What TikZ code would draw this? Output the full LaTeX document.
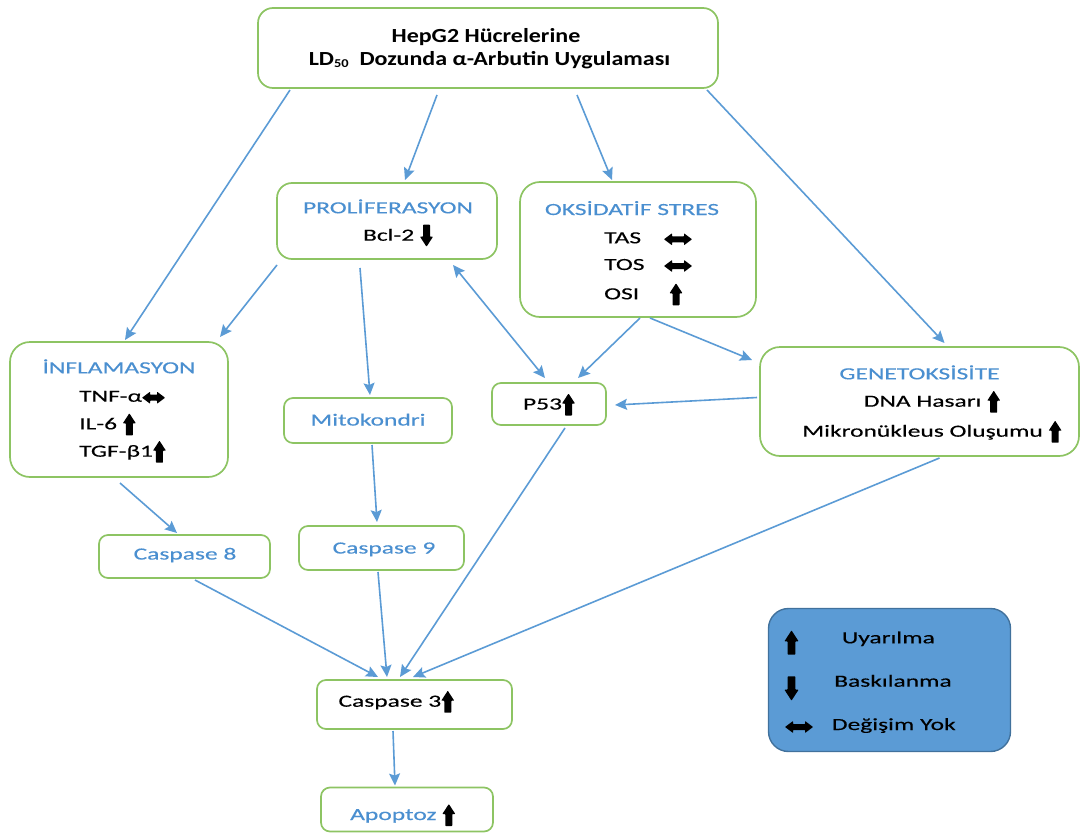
\documentclass[tikz,border=0pt]{standalone}
\usepackage{fontspec}
\setmainfont{Carlito}[FakeStretch=1.5,FakeBold=0.35]
\newfontfamily\titlefont{Carlito}[FakeStretch=1.2]
\usetikzlibrary{arrows.meta}
\definecolor{boxgreen}{RGB}{141,196,99}
\definecolor{arrowblue}{RGB}{91,155,213}
\definecolor{textblue}{RGB}{74,143,208}
\definecolor{legfill}{RGB}{91,155,213}
\definecolor{legdraw}{RGB}{65,113,156}
\newcommand\arrUp{\tikz[baseline=6pt]\fill[black,rounded corners=0.6pt] (3pt,0pt)--(10pt,0pt)--(10pt,12pt)--(13pt,12pt)--(6.5pt,22pt)--(0pt,12pt)--(3pt,12pt)--cycle;}
\newcommand\arrDown{\tikz[baseline=6pt]\fill[black,rounded corners=0.6pt] (3pt,22pt)--(10pt,22pt)--(10pt,10pt)--(13pt,10pt)--(6.5pt,0pt)--(0pt,10pt)--(3pt,10pt)--cycle;}
\newcommand\arrLR[1][28]{\tikz[baseline=1pt]\fill[black,rounded corners=0.5pt] (0pt,5pt)--(8pt,11pt)--(8pt,8pt)--({#1pt-8pt},8pt)--({#1pt-8pt},11pt)--(#1pt,5pt)--({#1pt-8pt},-1pt)--({#1pt-8pt},2pt)--(8pt,2pt)--(8pt,-1pt)--cycle;}
\begin{document}
\begin{tikzpicture}[x=1pt,y=-1pt,
  box/.style={draw=boxgreen, line width=1.7pt, rounded corners=15pt, fill=white, inner sep=0pt, outer sep=0pt},
  sbox/.style={box, rounded corners=9pt},
  legbox/.style={draw=legdraw, line width=1.4pt, rounded corners=20pt, fill=legfill, inner sep=0pt, outer sep=0pt},
  txt/.style={inner sep=0pt, font=\fontsize{17pt}{20pt}\selectfont, text=black},
  btxt/.style={txt, text=textblue},
  ttl/.style={inner sep=0pt, font=\titlefont\bfseries\fontsize{20pt}{24pt}\selectfont, text=black},
  conn/.style={draw=arrowblue, line width=1.6pt, -{Stealth[length=12pt,width=11pt,inset=2pt]}},
  dconn/.style={draw=arrowblue, line width=1.6pt, {Stealth[length=12pt,width=11pt,inset=2pt]}-{Stealth[length=12pt,width=11pt,inset=2pt]}}
]
\useasboundingbox (0,0) rectangle (1083,832);
% boxes
\node[box, minimum width=460pt, minimum height=80pt] (top) at (488,48) {};
\node[box, minimum width=220pt, minimum height=76pt] (prolif) at (387,221) {};
\node[box, rounded corners=20pt, minimum width=236pt, minimum height=135pt] (oks) at (638,249.5) {};
\node[box, rounded corners=20pt, minimum width=218pt, minimum height=135pt] (infl) at (119,409.5) {};
\node[box, rounded corners=20pt, minimum width=319pt, minimum height=109pt] (gen) at (919.5,401.5) {};
\node[sbox, minimum width=168pt, minimum height=45pt] (mito) at (368,420.5) {};
\node[sbox, minimum width=114pt, minimum height=42pt] (p53) at (549,404) {};
\node[sbox, minimum width=171pt, minimum height=43pt] (c8) at (184.5,556.5) {};
\node[sbox, minimum width=165pt, minimum height=44pt] (c9) at (381.5,548) {};
\node[sbox, minimum width=195pt, minimum height=49pt] (c3) at (414.5,704.5) {};
\node[sbox, minimum width=172pt, minimum height=44pt] (apo) at (407,809.5) {};
\node[legbox, minimum width=242pt, minimum height=143pt] (leg) at (889.5,680) {};
% texts
\node[ttl, anchor=base] (t1) at (486,43) {HepG2 Hücrelerine};
\node[ttl, anchor=base] (t2) at (489.5,66) {LD\raisebox{-1.5pt}{\fontsize{12pt}{12pt}\selectfont 50}\ \ Dozunda α-Arbutin Uygulaması};
\node[btxt, anchor=base] (prolifT) at (388,213.3) {PROLİFERASYON};
\node[txt, anchor=base] (bcl) at (398,240.7) {Bcl-2 \arrDown};
\node[btxt, anchor=base] (oksT) at (632,215) {OKSİDATİF STRES};
\node[txt, anchor=base west] (tas) at (604,243.3) {TAS};
\node[txt, anchor=base west] (tos) at (604,270) {TOS};
\node[txt, anchor=base west] (osi) at (604,299.3) {OSI};
\node[txt, anchor=base] (tasA) at (678,243.3) {\arrLR};
\node[txt, anchor=base] (tosA) at (678,270) {\arrLR};
\node[txt, anchor=base] (osiA) at (676,299.3) {\arrUp};
\node[btxt, anchor=base] (inflT) at (119,373.3) {İNFLAMASYON};
\node[txt, anchor=base west] (tnf) at (79,401.7) {TNF-α\arrLR[23]};
\node[txt, anchor=base west] (il6) at (79,429.3) {IL-6 \arrUp};
\node[txt, anchor=base west] (tgf) at (79,456.7) {TGF-β1\arrUp};
\node[btxt, anchor=base] (genT) at (919.5,379.3) {GENETOKSİSİTE};
\node[txt, anchor=base] (dna) at (932,406.7) {DNA Hasarı \arrUp};
\node[txt, anchor=base] (mikro) at (932,436.7) {Mikronükleus Oluşumu \arrUp};
\node[btxt, anchor=base] (mitoT) at (368,425.5) {Mitokondri};
\node[txt, anchor=base] (p53T) at (549,409.5) {P53\arrUp};
\node[btxt, anchor=base] (c8T) at (185,559.5) {Caspase 8};
\node[btxt, anchor=base] (c9T) at (384,553.5) {Caspase 9};
\node[txt, anchor=base west] (c3T) at (338.3,706.7) {Caspase 3\arrUp};
\node[btxt, anchor=base west] (apoT) at (350,820) {Apoptoz \arrUp};
% legend
\node[txt, anchor=base] (lu) at (791.5,648) {\scalebox{1.1}{\arrUp}};
\node[txt, anchor=base west] (luT) at (841.7,643.3) {Uyarılma};
\node[txt, anchor=base] (ld) at (791.5,694) {\scalebox{1.1}{\arrDown}};
\node[txt, anchor=base west] (ldT) at (834,686.7) {Baskılanma};
\node[txt, anchor=base] (llr) at (799,731) {\arrLR[28]};
\node[txt, anchor=base west] (llrT) at (831.7,730) {Değişim Yok};
% connectors
\draw[conn] ([shift={(32,2)}]top.south west) -- ([shift={(6,-2)}]infl.north);
\draw[conn] ([shift={(-51,7)}]top.south) -- ([shift={(18,-3)}]prolif.north);
\draw[conn] ([shift={(89,7)}]top.south) -- ([shift={(-26,-2)}]oks.north);
\draw[conn] ([shift={(-11,2)}]top.south east) -- ([shift={(25,-4)}]gen.north);
\draw[conn] ([shift={(0,6)}]prolif.south west) -- ([shift={(-8,-5)}]infl.north east);
\draw[conn] ([shift={(-27,9)}]prolif.south) -- ([shift={(2,-3)}]mito.north);
\draw[dconn] ([shift={(-44,6)}]prolif.south east) -- ([shift={(-4,-5)}]p53.north);
\draw[conn] ([shift={(2,1)}]oks.south) -- ([shift={(29,-5)}]p53.north);
\draw[conn] ([shift={(12,1)}]oks.south) -- ([shift={(-8,13)}]gen.north west);
\draw[conn] ([shift={(-3,-4)}]gen.west) -- ([shift={(9,1)}]p53.east);
\draw[conn] ([shift={(1,6)}]infl.south) -- ([shift={(-7.5,-2)}]c8.north);
\draw[conn] ([shift={(4,2)}]mito.south) -- ([shift={(-4.5,-4)}]c9.north);
\draw[conn] ([shift={(10.5,2)}]c8.south) -- ([shift={(-36.5,-3)}]c3.north);
\draw[conn] ([shift={(-3.5,2)}]c9.south) -- ([shift={(-27.5,-3)}]c3.north);
\draw[conn] ([shift={(16,3)}]p53.south) -- ([shift={(-14.5,-3)}]c3.north);
\draw[conn] ([shift={(20,2)}]gen.south) -- ([shift={(-1.5,-3)}]c3.north);
\draw[conn] ([shift={(-21.5,2)}]c3.south) -- ([shift={(-12,-2)}]apo.north);
\end{tikzpicture}
\end{document}
